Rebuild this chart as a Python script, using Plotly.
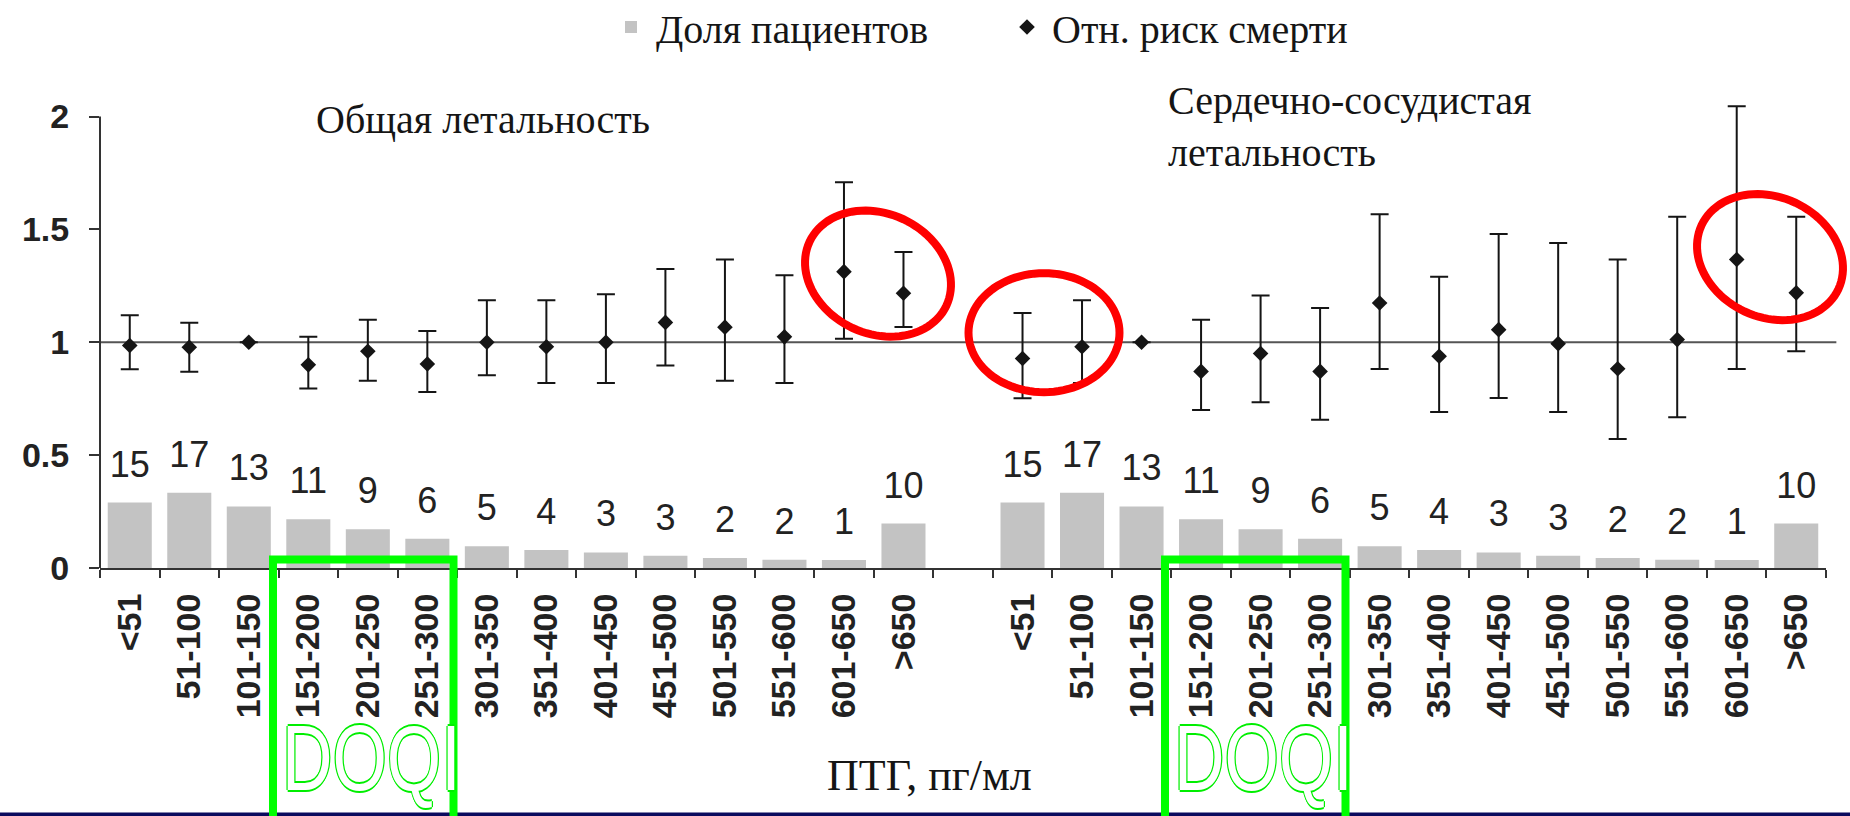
import math
import plotly.graph_objects as go

# ---------------- data ----------------
categories = ["<51", "51-100", "101-150", "151-200", "201-250", "251-300", "301-350",
              "351-400", "401-450", "451-500", "501-550", "551-600", "601-650", ">650"]
share_pct_labels = ["15", "17", "13", "11", "9", "6", "5", "4", "3", "3", "2", "2", "1", "10"]
share_bar = [0.29, 0.333, 0.273, 0.216, 0.172, 0.13, 0.096, 0.08, 0.069, 0.054, 0.044, 0.036, 0.035, 0.197]

rr_total = [0.986, 0.978, 1.0, 0.90, 0.96, 0.904, 1.0, 0.98, 1.0, 1.088, 1.067, 1.024, 1.313, 1.217]
rr_total_hi = [1.12, 1.086, None, 1.024, 1.10, 1.05, 1.186, 1.186, 1.213, 1.325, 1.367, 1.297, 1.709, 1.40]
rr_total_lo = [0.88, 0.87, None, 0.795, 0.83, 0.78, 0.854, 0.82, 0.82, 0.897, 0.83, 0.82, 1.016, 1.068]

rr_cv = [0.928, 0.98, 1.0, 0.871, 0.95, 0.871, 1.174, 0.938, 1.056, 0.994, 0.883, 1.012, 1.367, 1.219]
rr_cv_hi = [1.13, 1.186, None, 1.10, 1.207, 1.152, 1.567, 1.29, 1.48, 1.44, 1.367, 1.556, 2.046, 1.556]
rr_cv_lo = [0.752, 0.82, None, 0.70, 0.734, 0.657, 0.882, 0.691, 0.753, 0.691, 0.572, 0.668, 0.882, 0.96]

tick_labels_y = ["0", "0.5", "1", "1.5", "2"]
tick_vals_y = [0, 0.5, 1, 1.5, 2]

# ---------------- layout geometry ----------------
W, H = 1850, 816
ML, MR, MT, MB = 100, 24, 94.4, 247.7
PW, PH = W - ML - MR, H - MT - MB

def pxx(px):
    return (px - ML) / PW

def pxy(py):
    return (H - MB - py) / PH

n = len(categories)
pos1 = list(range(n))
pos2 = [n + 1 + i for i in range(n)]
positions = pos1 + pos2
all_labels = categories + categories

def err_plus(v, hi):
    return [None if h is None else h - x for x, h in zip(v, hi)]

def err_minus(v, lo):
    return [None if l is None else x - l for x, l in zip(v, lo)]

rr = rr_total + rr_cv
e_plus = err_plus(rr_total, rr_total_hi) + err_plus(rr_cv, rr_cv_hi)
e_minus = err_minus(rr_total, rr_total_lo) + err_minus(rr_cv, rr_cv_lo)

SERIF = "Liberation Serif, Times New Roman, serif"
SANS = "Liberation Sans, Arial, sans-serif"
TXT = "#151515"

fig = go.Figure()

fig.add_trace(go.Bar(
    x=positions, y=share_bar + share_bar, name="Доля пациентов",
    marker=dict(color="#c3c3c3", line=dict(width=0)),
    width=0.74, showlegend=True,
))

label_offset = 0.155
fig.add_trace(go.Scatter(
    x=positions, y=[v + label_offset for v in share_bar + share_bar],
    text=share_pct_labels + share_pct_labels, mode="text",
    textposition="middle center",
    textfont=dict(family=SANS, size=36, color="#222"),
    showlegend=False, hoverinfo="skip", cliponaxis=False,
))

fig.add_trace(go.Scatter(
    x=positions, y=rr, mode="markers", name="Отн. риск смерти",
    marker=dict(symbol="diamond", size=12, color="#151515"),
    error_y=dict(type="data", array=e_plus, arrayminus=e_minus, symmetric=False,
                 color="#151515", thickness=2, width=9),
    cliponaxis=False,
))

shapes = []
# y = 1 reference line
shapes.append(dict(type="line", xref="paper", yref="y", x0=0, x1=1.006, y0=1, y1=1,
                   line=dict(color="#555", width=2), layer="below"))
# y axis line from 0 to 2
shapes.append(dict(type="line", xref="paper", yref="y", x0=0, x1=0, y0=0, y1=2,
                   line=dict(color="#333", width=2), layer="above"))

# dark blue bottom strip
shapes.append(dict(type="rect", xref="paper", yref="paper",
                   x0=pxx(0), x1=pxx(W), y0=pxy(812.7), y1=pxy(824),
                   fillcolor="#0b0b5e", line=dict(width=0), layer="above"))

# green highlight boxes
for lpx, rpx in [(273, 453.5), (1165, 1345.5)]:
    shapes.append(dict(type="rect", xref="paper", yref="paper",
                       x0=pxx(lpx), x1=pxx(rpx), y0=pxy(559.7), y1=pxy(830),
                       line=dict(color="#00ff00", width=8), fillcolor="rgba(0,0,0,0)",
                       layer="above"))

# red ellipses (annotation marks)
def ellipse_path(cx, cy, a, b, theta_deg, npts=96):
    th = math.radians(theta_deg)
    pts = []
    for k in range(npts):
        t = 2 * math.pi * k / npts
        x = cx + a * math.cos(t) * math.cos(th) - b * math.sin(t) * math.sin(th)
        y = cy + a * math.cos(t) * math.sin(th) + b * math.sin(t) * math.cos(th)
        pts.append(f"{pxx(x):.5f},{pxy(y):.5f}")
    return "M" + " L".join(pts) + " Z"

for cx, cy, a, b, th in [(878, 274, 75.5, 60, 25), (1044, 333, 75.5, 59.5, 0),
                         (1770, 257.5, 75.5, 60, 25)]:
    shapes.append(dict(type="path", xref="paper", yref="paper",
                       path=ellipse_path(cx, cy, a, b, th),
                       line=dict(color="#ff0000", width=8), layer="above"))

annotations = [
    dict(text="Общая летальность", xref="paper", yref="paper", x=pxx(314), y=pxy(120),
         xanchor="left", yanchor="middle", showarrow=False,
         font=dict(family=SERIF, size=40, color=TXT)),
    dict(text="Сердечно-сосудистая<br>летальность", xref="paper", yref="paper",
         x=pxx(1166), y=pxy(126.5), xanchor="left", yanchor="middle", align="left",
         showarrow=False, font=dict(family=SERIF, size=40, color=TXT)),
    dict(text="ПТГ, пг/мл", xref="paper", yref="paper", x=pxx(929), y=pxy(776),
         xanchor="center", yanchor="middle", showarrow=False,
         font=dict(family=SERIF, size=44, color=TXT)),
]
outline = "-1.4px 0 #00ee00, 1.4px 0 #00ee00, 0 -1.4px #00ee00, 0 1.4px #00ee00"
for lpx in (280, 1172):
    annotations.append(dict(text="DOQI", xref="paper", yref="paper", x=pxx(lpx), y=pxy(758),
                            xanchor="left", yanchor="middle", showarrow=False,
                            font=dict(family="Liberation Sans, Arial, sans-serif",
                                      size=92, color="white", shadow=outline)))

fig.update_layout(
    width=W, height=H,
    margin=dict(l=ML, r=MR, t=MT, b=MB, pad=0),
    paper_bgcolor="white", plot_bgcolor="white",
    bargap=0.26,
    shapes=shapes, annotations=annotations,
    legend=dict(orientation="h", xref="container", yref="container",
                x=606 / W, y=1 - 27 / H, xanchor="left", yanchor="middle",
                font=dict(family=SERIF, size=40, color=TXT),
                itemwidth=40,
                entrywidth=341, entrywidthmode="pixels",
                bgcolor="rgba(0,0,0,0)"),
    xaxis=dict(range=[-0.5, pos2[-1] + 0.5],
               tickmode="array", tickvals=positions, ticktext=all_labels,
               tickangle=-90, ticks="", showgrid=False, zeroline=False,
               showline=True, linecolor="#333", linewidth=2,
               tickfont=dict(family=SANS, size=34, color="#222", weight="bold"),
               ticklabelstandoff=10,
               minor=dict(tick0=-0.5, dtick=1, ticks="outside", ticklen=8,
                          tickwidth=1.5, tickcolor="#333", showgrid=False)),
    yaxis=dict(range=[0, 2.1], tickmode="array", tickvals=tick_vals_y, ticktext=tick_labels_y,
               ticks="outside", ticklen=10, tickwidth=1.5, tickcolor="#333",
               showgrid=False, zeroline=False, showline=False,
               tickfont=dict(family=SANS, size=34, color="#222", weight="bold"),
               ticklabelstandoff=13),
)

# horizontally condense the outlined "DOQI" marks, as in the source picture
condense_js = """
var gd = document.getElementById('{plot_id}');
document.body.style.margin = '0';
document.body.style.overflow = 'hidden';
gd.querySelectorAll('text.annotation-text').forEach(function (t) {
  if (t.textContent.indexOf('DOQ') === 0) {
    var b = t.getBBox();
    var x0 = b.x;
    t.setAttribute('transform', 'translate(' + x0 + ',0) scale(0.76,1) translate(' + (-x0) + ',0)');
  }
});
"""

fig.write_html("out.html", config={"responsive": False, "displayModeBar": False},
               post_script=condense_js)
